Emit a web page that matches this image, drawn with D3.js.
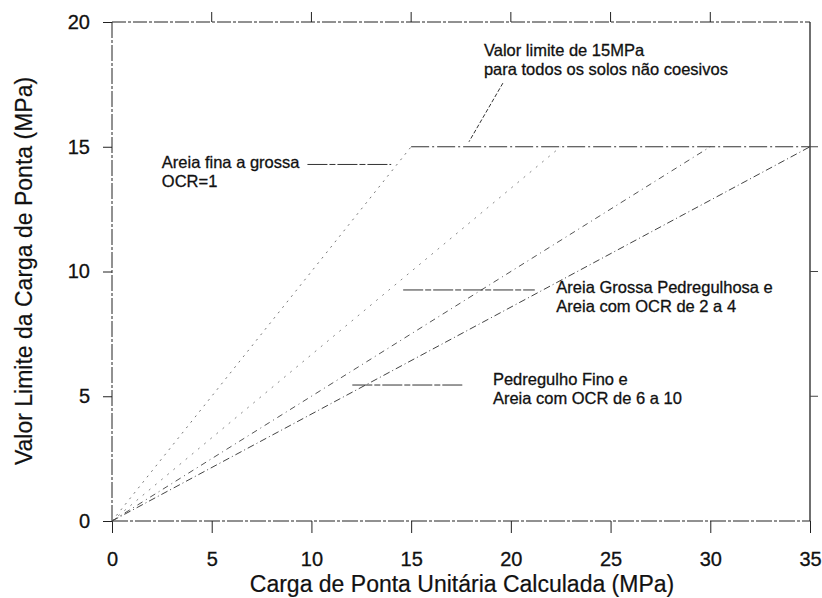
<!DOCTYPE html>
<html>
<head>
<meta charset="utf-8">
<script src="https://cdn.jsdelivr.net/npm/d3@7"></script>
<style>
  body { margin: 0; background: #fff; }
  text { font-family: "Liberation Sans", Arial, sans-serif; fill: #111; stroke: #111; stroke-width: 0.3px; }
</style>
</head>
<body>
<div id="chart"></div>
<script>
// reference lines: from origin to the 15 MPa plateau
const seriesNames = ['Areia fina a grossa', 'Areia grossa pedregulhosa', 'OCR 2 a 4', 'Pedregulho fino'];
const seriesEndX = [15, 22.5, 30, 35];
const limitValue = 15;
const plateauX = [15, 35];

const xTicks = [0, 5, 10, 15, 20, 25, 30, 35];
const yTicks = [0, 5, 10, 15, 20];

// annotations: text lines + leader line in data units
const notes = [
  { lines: ['Valor limite de 15MPa', 'para todos os solos não coesivos'], tx: 18.65, ty: 18.64, leader: [[19.6, 17.55], [17.9, 15.2]] },
  { lines: ['Areia fina a grossa', 'OCR=1'], tx: 2.5, ty: 14.15, leader: [[9.8, 14.29], [14.0, 14.29]] },
  { lines: ['Areia Grossa Pedregulhosa e', 'Areia com OCR de 2 a 4'], tx: 22.28, ty: 9.14, leader: [[14.6, 9.26], [21.2, 9.26]] },
  { lines: ['Pedregulho Fino e', 'Areia com OCR de 6 a 10'], tx: 19.1, ty: 5.45, leader: [[12.05, 5.45], [17.65, 5.45]] }
];

const config = { width: 822, height: 598, margin: { top: 22, right: 12, bottom: 77, left: 112 } };
const width = config.width - config.margin.left - config.margin.right;
const height = config.height - config.margin.top - config.margin.bottom;

const svg = d3.select('#chart').append('svg')
  .attr('width', config.width)
  .attr('height', config.height);

const chart = svg.append('g')
  .attr('transform', `translate(${config.margin.left}, ${config.margin.top})`);

const xScale = d3.scaleLinear().domain([0, 35]).range([0, width]);
const yScale = d3.scaleLinear().domain([0, 20]).range([height, 0]);

// frame
const frameStyle = g => g.attr('fill', 'none').attr('stroke', '#222').attr('stroke-width', 1);
chart.append('line').attr('x1', 0).attr('x2', width).attr('y1', 0).attr('y2', 0)
  .call(frameStyle).attr('stroke-dasharray', '14,2,3,2');
chart.append('line').attr('x1', width).attr('x2', width).attr('y1', 0).attr('y2', height)
  .call(frameStyle).attr('stroke-width', 1.3);

// axes
const xAxis = d3.axisBottom(xScale).tickValues(xTicks).tickSize(12).tickPadding(19);
const yAxis = d3.axisLeft(yScale).tickValues(yTicks).tickSize(9).tickPadding(13);

const xg = chart.append('g')
  .attr('transform', `translate(0, ${height})`)
  .call(xAxis);
const yg = chart.append('g').call(yAxis);

[xg, yg].forEach(g => {
  g.select('.domain').attr('stroke', '#222').attr('stroke-dasharray', '16,2,3,2');
  g.selectAll('.tick line').attr('stroke', '#222');
  g.selectAll('.tick text').style('font-size', '20px').attr('fill', '#111');
});
xg.select('.domain').attr('d', `M0,0H${width}`);
yg.select('.domain').attr('d', `M0,${height}V0`);

// top ticks (outward) and right ticks
chart.append('g').selectAll('line').data(xTicks.slice(1, -1)).join('line')
  .attr('x1', d => xScale(d)).attr('x2', d => xScale(d))
  .attr('y1', 0).attr('y2', -10)
  .attr('stroke', '#222');
chart.append('g').selectAll('line').data(yTicks.slice(1, -1)).join('line')
  .attr('x1', width).attr('x2', width + 8)
  .attr('y1', d => yScale(d)).attr('y2', d => yScale(d))
  .attr('stroke', '#444');

// axis titles
svg.append('text')
  .attr('x', 462)
  .attr('y', 592)
  .attr('text-anchor', 'middle')
  .style('font-size', '23px')
  .style('stroke-width', '0.2px')
  .text('Carga de Ponta Unitária Calculada (MPa)');

svg.append('text')
  .attr('transform', `translate(32, 271) rotate(-90)`)
  .attr('text-anchor', 'middle')
  .style('font-size', '23px')
  .style('stroke-width', '0.2px')
  .text('Valor Limite da Carga de Ponta (MPa)');

// slope lines
const line = d3.line().x(d => xScale(d[0])).y(d => yScale(d[1]));
const dashes = ['2,5', '2,6', '6,4,1,4', '7,3,1,3'];
const greys = ['#777', '#888', '#555', '#444'];

chart.selectAll('.slope').data(seriesEndX).join('path')
  .attr('class', 'slope')
  .attr('d', d => line([[0, 0], [d, limitValue]]))
  .attr('fill', 'none')
  .attr('stroke', (d, i) => greys[i])
  .attr('stroke-width', 1)
  .attr('stroke-dasharray', (d, i) => dashes[i]);

// 15 MPa plateau
chart.append('path')
  .attr('d', line(plateauX.map(x => [x, limitValue])))
  .attr('fill', 'none')
  .attr('stroke', '#333')
  .attr('stroke-width', 1)
  .attr('stroke-dasharray', '18,3,2,3');

// annotations
notes.forEach(n => {
  chart.append('path')
    .attr('d', line(n.leader))
    .attr('fill', 'none')
    .attr('stroke', '#333')
    .attr('stroke-width', 1)
    .attr('stroke-dasharray', n.leader[0][1] === n.leader[1][1] ? '20,2,6,2' : '4,2');
  const t = chart.append('text')
    .attr('x', xScale(n.tx))
    .attr('y', yScale(n.ty))
    .style('font-size', '16.5px');
  n.lines.forEach((s, i) => {
    t.append('tspan').attr('x', xScale(n.tx)).attr('dy', i === 0 ? 0 : 19).text(s);
  });
});
</script>
</body>
</html>
